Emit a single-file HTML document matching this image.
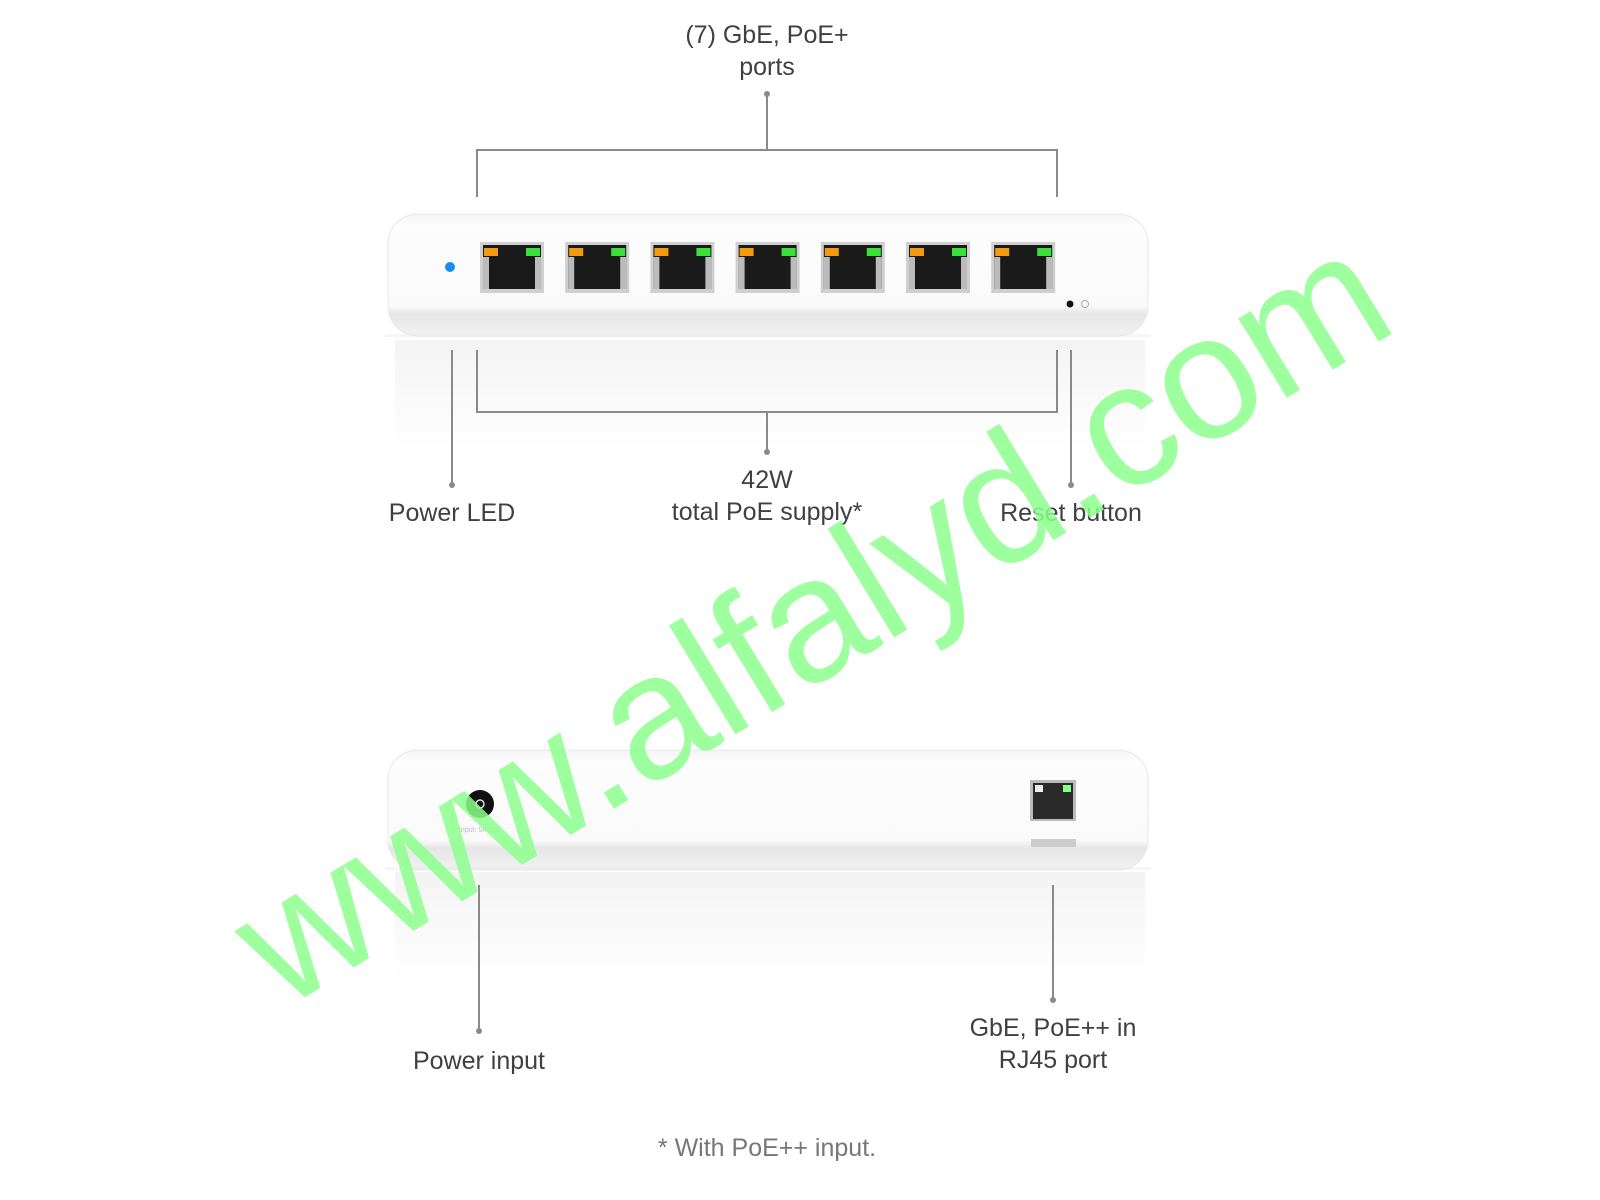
<!DOCTYPE html>
<html><head><meta charset="utf-8"><style>
html,body{margin:0;padding:0;background:#fff;width:1600px;height:1200px;overflow:hidden;position:relative;font-family:"Liberation Sans",sans-serif}
.t{position:absolute;color:#404040;font-size:25px;text-align:center;width:400px;line-height:32px}
</style></head><body>
<svg width="1600" height="1200" style="position:absolute;left:0;top:0">
<defs>
<linearGradient id="body" x1="0" y1="0" x2="0" y2="1">
<stop offset="0" stop-color="#f4f4f4"/><stop offset="0.1" stop-color="#fdfdfd"/><stop offset="0.75" stop-color="#fafafa"/><stop offset="0.82" stop-color="#e6e6e6"/><stop offset="1" stop-color="#f2f2f2"/></linearGradient>
<linearGradient id="refl" x1="0" y1="0" x2="0" y2="1">
<stop offset="0" stop-color="#ececec"/><stop offset="1" stop-color="#ffffff"/></linearGradient>
</defs>
<rect x="395" y="340" width="750" height="110" fill="url(#refl)" opacity="0.6"/>
<rect x="395" y="872" width="750" height="110" fill="url(#refl)" opacity="0.6"/>
<rect x="388" y="214" width="760" height="122" rx="30" fill="url(#body)" stroke="#e8e8e8"/>
<rect x="385" y="334" width="766" height="3" fill="#e6e6e6" opacity="0.4"/>
<circle cx="450" cy="267" r="5" fill="#1a8cf0"/>
<g id="ports">
<g transform="translate(480,242)"><rect width="64" height="51" fill="#cfcfcf"/><rect x="3" y="3" width="58" height="44" fill="#1a1a1a"/><rect x="4" y="6" width="14" height="8" fill="#f39a12"/><rect x="46" y="6" width="14" height="8" fill="#3be03b"/><rect x="3" y="15" width="6" height="32" fill="#bbb"/><rect x="55" y="15" width="6" height="32" fill="#bbb"/></g>
</g>
<use href="#ports" x="85.2"/><use href="#ports" x="170.4"/><use href="#ports" x="255.6"/><use href="#ports" x="340.8"/><use href="#ports" x="426"/><use href="#ports" x="511.2"/>
<circle cx="1070" cy="304" r="3.5" fill="#111"/><circle cx="1085" cy="304" r="3.5" fill="none" stroke="#aaa"/>
<rect x="388" y="750" width="760" height="120" rx="30" fill="url(#body)" stroke="#e8e8e8"/>
<rect x="385" y="867" width="766" height="3" fill="#e6e6e6" opacity="0.4"/>
<circle cx="480" cy="804" r="14" fill="#111"/><circle cx="480" cy="804" r="4" fill="none" stroke="#ddd" stroke-width="1.5"/>
<text x="480" y="832" font-size="7" fill="#bbb" text-anchor="middle" font-family="Liberation Sans">Input: 54VDC</text>
<g transform="translate(1030,780)"><rect width="46" height="41" fill="#bbb"/><rect x="3" y="3" width="40" height="36" fill="#2a2a2a"/><rect x="5" y="5" width="8" height="7" fill="#eee"/><rect x="33" y="5" width="8" height="7" fill="#8f8"/></g>
<rect x="1031" y="839" width="45" height="8" fill="#ccc"/>
<g stroke="#8a8a8a" stroke-width="2" fill="none">
<path d="M767 94V150M477 197V150H1057V197"/>
<path d="M477 350V412H1057V350M767 412V452"/>
<path d="M452 350V485M1071 350V485"/>
<path d="M479 885V1031M1053 885V1000"/>
</g>
<g fill="#8a8a8a"><circle cx="767" cy="94" r="3"/><circle cx="767" cy="452" r="3"/><circle cx="452" cy="485" r="3"/><circle cx="1071" cy="485" r="3"/><circle cx="479" cy="1031" r="3"/><circle cx="1053" cy="1000" r="3"/></g>
</svg>
<div class="t" style="left:567px;top:19px">(7) GbE, PoE+<br>ports</div>
<div class="t" style="left:252px;top:497px">Power LED</div>
<div class="t" style="left:567px;top:464px">42W<br>total PoE supply*</div>
<div class="t" style="left:871px;top:497px">Reset button</div>
<div class="t" style="left:279px;top:1045px">Power input</div>
<div class="t" style="left:853px;top:1012px">GbE, PoE++ in<br>RJ45 port</div>
<div class="t" style="left:567px;top:1132px;color:#777">* With PoE++ input.</div>
<div style="position:absolute;left:811px;top:618px;width:0;height:0">
<div style="position:absolute;left:-800px;top:-105px;width:1600px;text-align:center;font-size:176px;line-height:210px;color:#8cff8c;opacity:0.85;transform:rotate(-31.4deg);white-space:nowrap">www.alfalyd.com</div>
</div>
</body></html>
